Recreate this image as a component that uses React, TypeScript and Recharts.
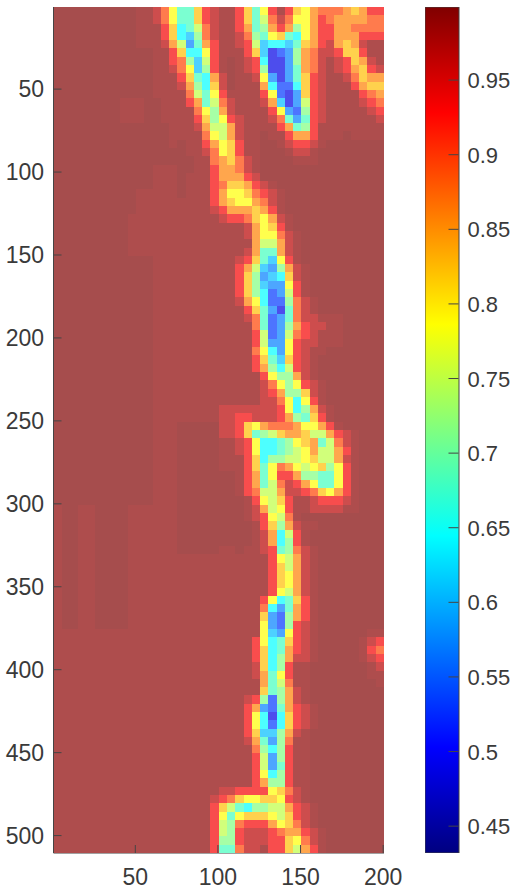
import React from "react";
import { ScatterChart, Scatter, XAxis, YAxis, BarChart, Bar } from "recharts";

const xTicks = [50, 100, 150, 200];
const yTicks = [50, 100, 150, 200, 250, 300, 350, 400, 450, 500];
const barTicks = [0.45, 0.5, 0.55, 0.6, 0.65, 0.7, 0.75, 0.8, 0.85, 0.9, 0.95];
const valueMin = 0.432;
const valueMax = 0.999;

// one letter per 5x5 cell (see levelPositions)
const levelLetters = "abcdefghijklmnop";
const levelPositions = [0.1, 0.18, 0.25, 0.31, 0.375, 0.44, 0.5, 0.56, 0.625, 0.69, 0.75, 0.81, 0.885, 0.945, 0.988, 1.0];

const heatRows = [
  "ppppp ppppp oonli ffjmn oomjf imomj iklll kjkmm",
  "ppppp ppppp oonli ffjmn oomjf hlnli ikmlk kkkll",
  "ppppp ppppp ooomj efhln oomkf gkmkg ikmmk kllll",
  "ppppp ppppp ooomj edgln oonlg fijfe ikmmk kkmmm",
  "ppppp ppppp ooonk hcfkm oonmh deedf jkmnk jknoo",
  "ppppp ppppp ppoom jeeim ooomj dabcg klnnm jjmoo",
  "ppppp ppppp ppoom lgdhm oponm eaacg klnon mjkno",
  "ppppp ppppp ppoon lidgm oponm gaacf klnon mkjmn",
  "ppppp ppppp ppooo mjfek npoon icacf jmnoo nljkk",
  "ppppp ppppp ppooo nkgej npooo kebbe jmnoo omkjj",
  "ppppp ppppp ppooo olhfi moooo mibac jmnoo oomlk",
  "ppppp pppoo oppoo omkfh lnooo nkdac hmnoo oonml",
  "ppppp pppoo oppoo oolig knooo omicb gmnoo ooonm",
  "ppppp pppoo oppoo oomjg imnoo onlfc fmnoo oooon",
  "ppppp ppppp ppppo oonkh hknoo oomkf gmooo ooooo",
  "ppppp ppppp ppppo oooli hknoo poomk kmooo poooo",
  "ppppp ppppp ppppo poomk ijmoo pponm mnopp ppppp",
  "ppppp ppppp ppppp poonl ijmoo pppon noppp ppppp",
  "ppppp ppppp ppppp ppool kjlno ppppo ooppp ppppp",
  "ppppp ppppp ppooo ppoom kklno ppppp ppppp ppppp",
  "ppppp ppppp ppooo pooom kkkmn ppppp ppppp ppppp",
  "ppppp ppppp ppooo pooom ljjkm noppp ppppp ppppp",
  "ppppp ppppp ooooo pooom kiijl mnopp ppppp ppppp",
  "ppppp ppppp ooooo oooom kjiik lnopp ppppp ppppp",
  "ppppp ppppp ooooo oooon mkkkj kmopp ppppp ppppp",
  "ppppp ppppo ooooo ooooo nmmlj iknop ppppp ppppp",
  "ppppp ppppo ooooo ooooo ooonk ijmop ppppp ppppp",
  "ppppp ppppo ooooo ooooo ooonk iilno ppppp ppppp",
  "ppppp ppppo ooooo ooooo ooook hhkno ppppp ppppp",
  "ppppp ppppo ooooo ooooo ooonk ffkno ppppp ppppp",
  "ppppp ppppp ppooo ooooo oonmj fdimo ppppp ppppp",
  "ppppp ppppp ppooo ooooo oomkh dcgkn opppp ppppp",
  "ppppp ppppp ppooo ooooo oomjg cdejn opppp ppppp",
  "ppppp ppppp ppooo ooooo oomjg dccim opppp ppppp",
  "ppppp ppppp ppooo ooooo oomjg ebchm opppp ppppp",
  "ppppp ppppp ppooo ooooo oonki ebbgl noppp ppppp",
  "ppppp ppppp ppooo ooooo ooomj fcafl noppp ppppp",
  "ppppp ppppp ppooo ooooo ooonl fbcfl nnooo ppppp",
  "ppppp ppppp ppooo ooooo ooool fbcgk mnnoo ppppp",
  "ppppp ppppp ppooo ooooo oooom hbchl mnooo ppppp",
  "ppppp ppppp ppooo ooooo oooom hccim nnooo ppppp",
  "ppppp ppppp ppooo ooooo ooool iecim noopp ppppp",
  "ppppp ppppp ppooo ooooo oooom jfdjm noppp ppppp",
  "ppppp ppppp ppooo ooooo oooom kgehm noppp ppppp",
  "ppppp ppppp ppooo ooooo ooooo miggk noppp ppppp",
  "ppppp ppppp ppooo ooooo ooooo nligi mnopp ppppp",
  "ppppp ppppp ppooo ooooo ooooo nmkgg jnopp ppppp",
  "ppppp ppppp ppooo ooooo ooooo nnlie imopp ppppp",
  "ppppp ppppp ppooo ooooo nnnnn nnmie gknop ppppp",
  "ppppp ppppp ppooo ooooo nnmmn nnmkg fjmop ppppp",
  "ppppp ppppp ppooo ppppp nnmji klllk iikmo ppppp",
  "ppppp ppppp ppooo ppppp nnmjf ghjkk jhhkm noppp",
  "ppppp ppppp ppooo ppppp oonmi eefgi jkfhl noppp",
  "ppppp ppppp ppooo ppppp oonmi eefgh ikhhk moppp",
  "ppppp ppppp ppooo ppppp ooomj egghh ijhhk noppp",
  "ppppp ppppp ppooo ppppp ooomj filki hijgi moppp",
  "ppppp ppppp ppooo ppppp ppomk fimmk ggffi moppp",
  "ppppp ppppp ppooo ppppp ppomk fhlnm kiffi moppp",
  "ppppp ppppp ppooo ppppp ppoml hhknn mljik moppp",
  "ppppp ppppp ppooo ppppp pppom ihjmo onmmm noppp",
  "oppoo ppppo ooooo ppppp pppon khimo onnnn ooppp",
  "oppoo ppppo ooooo ppppp pppon mihlo ppppp ppppp",
  "oppoo ppppo ooooo ppppp ppppo mjgkn ooppp ppppp",
  "oppoo ppppo ooooo ppppp ppppo nkehm opppp ppppp",
  "oppoo ppppo ooooo ppppp ppppo nkegm opppp ppppp",
  "oppoo ppppo ooooo ppppp oopoo nmfgl noppp ppppp",
  "oppoo ppppo ooooo ooooo ooooo omihk noppp ppppp",
  "oppoo ppppo ooooo ooooo ooooo omjhk noppp ppppp",
  "oppoo ppppo ooooo ooooo ooooo omjik noppp ppppp",
  "oppoo ppppo ooooo ooooo ooooo omjik noppp ppppp",
  "oppoo ppppo ooooo ooooo ooooo omihk noppp ppppp",
  "oppoo ppppo ooooo ooooo ooooo miefj moppp ppppp",
  "oppoo ppppo ooooo ooooo ooooo lecfk moppp ppppp",
  "oppoo ppppo ooooo ooooo ooooo jcbgk moppp ppppp",
  "oppoo ppppo ooooo ooooo ooooo icbgm noppp ppppp",
  "ooooo ooooo ooooo ooooo ooooo idcim noppp pppoo",
  "ooooo ooooo ooooo ooooo oooom iefjm noppp pponm",
  "ooooo ooooo ooooo ooooo oooom jefkm noppp ppoml",
  "ooooo ooooo ooooo ooooo oooom jegkn noppp pponm",
  "ooooo ooooo ooooo ooooo oooon jegmo opppp pppon",
  "ooooo ooooo ooooo ooooo oooon kfimo opppp pppoo",
  "ooooo ooooo ooooo ooooo ooooo kfhlo opppp ppppo",
  "ooooo ooooo ooooo ooooo ooooo jfgkn opppp ppppp",
  "ooooo ooooo ooooo ooooo ooonm gbgkn opppp ppppp",
  "ooooo ooooo ooooo ooooo ooomk cbfkm noppp ppppp",
  "ooooo ooooo ooooo ooooo ooomi eaejm noppp ppppp",
  "ooooo ooooo ooooo ooooo ooomi ebejm noppp ppppp",
  "ooooo ooooo ooooo ooooo ooomj ddgkn opppp ppppp",
  "ooooo ooooo ooooo ooooo ooonk fcglo opppp ppppp",
  "ooooo ooooo ooooo ooooo ooool gegmo opppp ppppp",
  "ooooo ooooo ooooo ooooo oooom hcgmo opppp ppppp",
  "ooooo ooooo ooooo ooooo oooom hcfmo opppp ppppp",
  "ooooo ooooo ooooo ooooo oooom iegmo opppp ppppp",
  "ooooo ooooo ooooo ooooo oooom kggmo opppp ppppp",
  "ooooo ooooo ooooo ooooo nnmmm mijln opppp ppppp",
  "ooooo ooooo ooooo oooon mljii jjimn opppp ppppp",
  "ooooo ooooo ooooo oooom jhfeg ghhkm noppp ppppp",
  "ooooo ooooo ooooo oooom ifijj jihjm noppp ppppp",
  "ooooo ooooo ooooo oooom hglmm mkijl noppp ppppp",
  "ooooo ooooo ooooo oooom hgmnn nmlkk mnopp ppppp",
  "ooooo ooooo ooooo oooom ggmnn nmmji lnopp ppppp",
  "ooooo ooooo ooooo oooom fflnn ommjh kmopp ppppp",
];

const cellSpan = 5;
const axisDark = "#454545";
const textDark = "#3a3a3a";
const fontFamily = "'Liberation Sans', Arial, sans-serif";
const chartW = 512;
const chartH = 889;
const plotL = 53.5;
const plotR = 128;
const plotT = 7;
const plotB = 36;
const cellW = (chartW - plotL - plotR) / (heatRows[0].replace(/ /g, "").length);
const cellH = (chartH - plotT - plotB) / heatRows.length;

function jet(t: number): [number, number, number] {
  const ramp = (c: number) => Math.max(0, Math.min(1, 1.5 - Math.abs(4 * t - c)));
  return [ramp(3), ramp(2), ramp(1)];
}
function washed(t: number) {
  const [r, g, b] = jet(t);
  const m = (c: number) => Math.round((c * 0.7 + 0.3) * 255);
  return `rgb(${m(r)},${m(g)},${m(b)})`;
}

const cells = heatRows.flatMap((row, r) =>
  row.replace(/ /g, "").split("").map((ch, c) => {
    const t = levelPositions[levelLetters.indexOf(ch)];
    return { x: cellSpan * c + 3, y: cellSpan * r + 3, value: valueMin + t * (valueMax - valueMin), t };
  })
);

const CellShape = (p: any) => (
  <rect
    x={p.cx - cellW / 2}
    y={p.cy - cellH / 2}
    width={cellW + 0.3}
    height={cellH + 0.3}
    fill={washed(p.payload.t)}
    shapeRendering="crispEdges"
  />
);

const label = { fontFamily, fontSize: 23, fill: textDark };
const barLabel = { fontFamily, fontSize: 22, fill: textDark };
const BottomTick = (p: any) => (
  <g>
    <line x1={p.x} x2={p.x} y1={p.y} y2={p.y - 8} stroke={axisDark} />
    <text x={p.x} y={p.y + 32} textAnchor="middle" {...label}>{p.payload.value}</text>
  </g>
);
const TopTick = (p: any) => <line x1={p.x} x2={p.x} y1={p.y} y2={p.y + 8} stroke={axisDark} />;
const LeftTick = (p: any) => (
  <g>
    <line x1={p.x} x2={p.x + 8} y1={p.y} y2={p.y} stroke={axisDark} />
    <text x={p.x - 9.5} y={p.y + 8} textAnchor="end" {...label}>{p.payload.value}</text>
  </g>
);
const RightTick = (p: any) => <line x1={p.x} x2={p.x - 8} y1={p.y} y2={p.y} stroke={axisDark} />;
const BarTick = (p: any) => (
  <g>
    <line x1={p.x} x2={p.x - 10} y1={p.y} y2={p.y} stroke={axisDark} />
    <text x={p.x + 9} y={p.y + 8} textAnchor="start" {...barLabel}>{p.payload.value}</text>
  </g>
);

const jetStops = [0, 0.125, 0.375, 0.625, 0.875, 1];
const barData = [{ name: "scale", range: [valueMin, valueMax] }];

const abs: React.CSSProperties = { position: "absolute", left: 0, top: 0 };

export default function App() {
  return (
    <div style={{ position: "absolute", left: 0, top: 0, width: chartW, height: chartH }}>
      <div style={abs}>
        <ScatterChart width={chartW} height={chartH} margin={{ top: plotT, right: plotR, bottom: 0, left: 0 }}>
          <Scatter data={cells} dataKey="value" shape={CellShape} isAnimationActive={false} />
          <XAxis type="number" dataKey="x" domain={[0.5, 200.5]} ticks={xTicks} height={plotB} tickSize={0} tickMargin={0}
            tickLine={false} tick={BottomTick} stroke={axisDark} interval={0} allowDataOverflow />
          <YAxis type="number" dataKey="y" domain={[0.5, 510.5]} ticks={yTicks} reversed width={plotL} tickSize={0} tickMargin={0}
            tickLine={false} tick={LeftTick} stroke={axisDark} interval={0} allowDataOverflow />
          <XAxis xAxisId="top" orientation="top" type="number" domain={[0.5, 200.5]} ticks={xTicks} height={0} tickSize={0} tickMargin={0}
            tickLine={false} tick={TopTick} stroke={axisDark} interval={0} allowDataOverflow />
          <YAxis yAxisId="right" orientation="right" type="number" domain={[0.5, 510.5]} ticks={yTicks} reversed width={0} tickSize={0} tickMargin={0}
            tickLine={false} tick={RightTick} stroke={axisDark} interval={0} allowDataOverflow />
        </ScatterChart>
      </div>
      <div style={{ position: "absolute", left: 425, top: 0 }}>
        <BarChart width={87} height={chartH} data={barData} margin={{ top: plotT, right: 0, bottom: plotB, left: 0 }} barCategoryGap={0}>
          <defs>
            <linearGradient id="jetBar" x1="0" y1="1" x2="0" y2="0">
              {jetStops.map((s) => {
                const [r, g, b] = jet(s);
                return <stop key={s} offset={s} stopColor={`rgb(${r * 255},${g * 255},${b * 255})`} />;
              })}
            </linearGradient>
          </defs>
          <XAxis dataKey="name" hide />
          <Bar dataKey="range" fill="url(#jetBar)" stroke={axisDark} isAnimationActive={false} />
          <YAxis orientation="right" type="number" domain={[valueMin, valueMax]} ticks={barTicks} width={53.5} tickSize={0} tickMargin={0}
            tickLine={false} axisLine={false} tick={BarTick} interval={0} allowDataOverflow />
        </BarChart>
      </div>
    </div>
  );
}
